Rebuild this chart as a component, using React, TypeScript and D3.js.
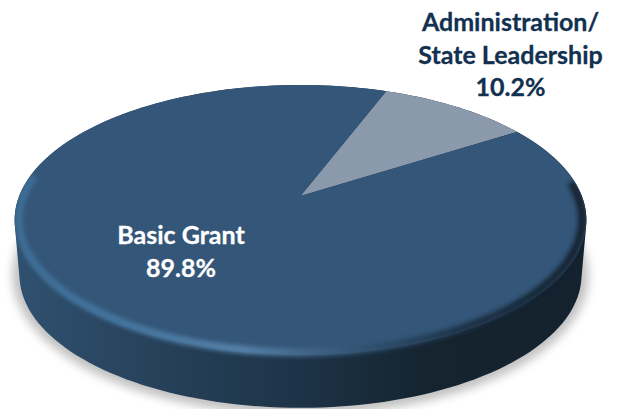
import React from "react";
import * as d3 from "d3";

// Funding shares, in percent
const categories = ["Administration/ State Leadership", "Basic Grant"];
const shares = [10.2, 89.8];
const sliceColors = ["#8a99ab", "#345678"];
const adminLabelLines = ["Administration/", "State Leadership", "10.2%"];
const grantLabelLines = ["Basic Grant", "89.8%"];

const W = 618;
const H = 409;

// Tilted disc: maps a point of the unit circle onto the screen with perspective.
const apex = { x: 300.5, y: 196 };
const scaleX = 281.3;
const scaleY = 130.8;
const tilt = -0.178;
const project = (a: number, r = 1): [number, number] => {
  const px = Math.sin(a) * r;
  const py = -Math.cos(a) * r;
  const w = 1 + tilt * py;
  return [apex.x + (scaleX * px) / w, apex.y + (scaleY * py) / w];
};

const rad = (deg: number) => (deg * Math.PI) / 180;
const toPath = d3.line();
const startAngle = rad(20.8);
const slices = d3
  .pie<number>()
  .sort(null)
  .startAngle(startAngle)
  .endAngle(startAngle + 2 * Math.PI)(shares);

const arcPoints = (a0: number, a1: number, r = 1) =>
  d3.range(0, 201).map((i) => project(a0 + ((a1 - a0) * i) / 200, r));

const slicePath = (a0: number, a1: number) =>
  toPath([[apex.x, apex.y], ...arcPoints(a0, a1)]) + "Z";

const rimPts = arcPoints(0, 2 * Math.PI);

// The wall under the disc: the rim pushed down, narrowing slightly toward the base.
const depth = 55;
const baseScale = 0.983;
const basePts: [number, number][] = rimPts.map(
  ([x, y]) => [300 + (x - 300) * baseScale, 220 + (y - 220) * baseScale + depth] as [number, number]
);
const basePath = toPath(basePts) + "Z";
const hullPath = "M" + d3.polygonHull([...rimPts, ...basePts])!.join("L") + "Z";

export default function App() {
  return (
    <svg
      width={W}
      height={H}
      viewBox={`0 0 ${W} ${H}`}
      style={{ position: "absolute", left: 0, top: 0, background: "#fff" }}
    >
      <defs>
        <linearGradient id="wall" gradientUnits="userSpaceOnUse" x1="14" x2="586" y1="0" y2="0">
          <stop offset="0" stopColor="#2f5170" />
          <stop offset="0.25" stopColor="#27415a" />
          <stop offset="0.5" stopColor="#1d3347" />
          <stop offset="0.72" stopColor="#15242f" />
          <stop offset="1" stopColor="#14222f" />
        </linearGradient>
        <linearGradient id="bevel" gradientUnits="userSpaceOnUse" x1="14" x2="586" y1="0" y2="0">
          <stop offset="0" stopColor="#3d6c94" />
          <stop offset="0.2" stopColor="#44759e" />
          <stop offset="0.4" stopColor="#5580a8" />
          <stop offset="0.53" stopColor="#3f6283" />
          <stop offset="0.65" stopColor="#2c4a68" />
          <stop offset="0.8" stopColor="#1c3044" />
          <stop offset="1" stopColor="#14222f" />
        </linearGradient>
        <filter id="shadow" x="-10%" y="-10%" width="120%" height="120%">
          <feGaussianBlur stdDeviation="5" />
        </filter>
        <filter id="soft" x="-5%" y="-5%" width="110%" height="110%">
          <feGaussianBlur stdDeviation="2.2" />
        </filter>
        <clipPath id="bodyClip">
          <path d={hullPath} />
        </clipPath>
      </defs>

      {/* soft ground shadow below the base */}
      <path d={basePath} fill="#8f8f8f" stroke="#8f8f8f" strokeWidth={14} opacity={0.55} filter="url(#shadow)" />
      <path d={hullPath} fill="url(#wall)" />

      <g>
        {slices.map((s, i) => (
          <path
            key={categories[i]}
            d={slicePath(s.startAngle, s.endAngle)}
            fill={sliceColors[i]}
          />
        ))}
      </g>

      {/* rounded edge of the disc, lit from the left */}
      <g clipPath="url(#bodyClip)">
        <path
          d={toPath(arcPoints(rad(84), rad(279), 0.986))!}
          fill="none"
          stroke="url(#bevel)"
          strokeWidth={8}
          filter="url(#soft)"
        />
      </g>

      <g
        fontFamily="Lato, 'Open Sans', sans-serif"
        fontWeight={700}
        fontSize={25}
        textAnchor="middle"
      >
        {adminLabelLines.map((t, i) => (
          <text key={t} x={510.5} y={31 + i * 32.5} fill="#12304f" stroke="#12304f" strokeWidth={0.3}>
            {t}
          </text>
        ))}
        {grantLabelLines.map((t, i) => (
          <text key={t} x={181} y={244 + i * 33} fill="#ffffff" stroke="#ffffff" strokeWidth={0.3}>
            {t}
          </text>
        ))}
      </g>
    </svg>
  );
}
